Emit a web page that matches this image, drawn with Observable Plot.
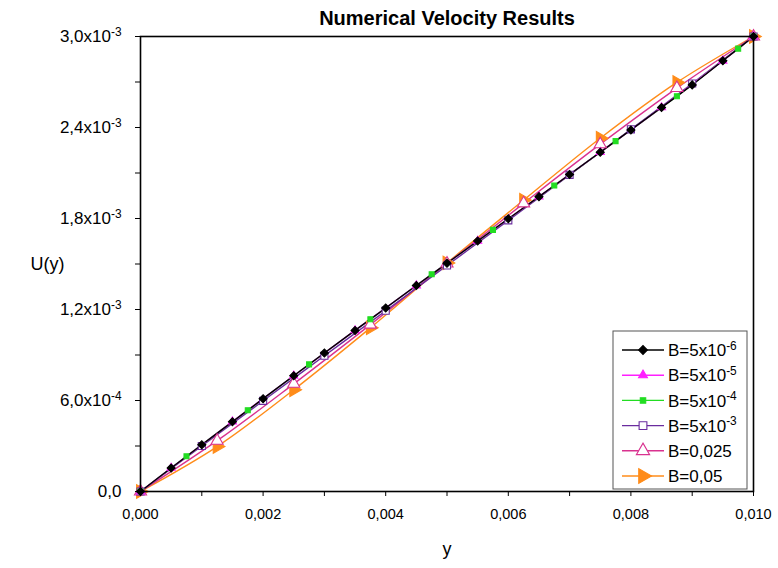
<!DOCTYPE html>
<html><head><meta charset="utf-8">
<script src="https://cdn.jsdelivr.net/npm/d3@7"></script>
<script src="https://cdn.jsdelivr.net/npm/@observablehq/plot@0.6"></script>
<style>body{margin:0;background:#fff}</style>
</head><body><div id="chart"></div>
<script>
// ---- data (y and U both in units of 1e-3) ----
const seriesNames = ["B=5x10^-6", "B=5x10^-5", "B=5x10^-4", "B=5x10^-3", "B=0,025", "B=0,05"];

const y_B5e6 = [0,0.5,1,1.5,2,2.5,3,3.5,4,4.5,5,5.5,6,6.5,7,7.5,8,8.5,9,9.5,10];
const U_B5e6 = [0,0.155,0.308,0.460,0.612,0.763,0.913,1.062,1.210,1.358,1.505,1.652,1.798,1.944,2.090,2.237,2.384,2.532,2.681,2.840,3.000];

const y_B5e5 = [0,0.5,1.5,2.5,3.5,4.5,5.5,6.5,7.5,8.5,9.5,10];
const U_B5e5 = [0,0.155,0.461,0.763,1.062,1.358,1.652,1.944,2.237,2.532,2.840,3.000];

const y_B5e4 = [0,0.75,1.75,2.75,3.75,4.75,5.75,6.75,7.75,8.75,9.75,10];
const U_B5e4 = [0,0.232,0.536,0.838,1.136,1.432,1.725,2.017,2.310,2.606,2.920,3.000];

const y_B5e3 = [0,1,2,3,4,5,6,7,8,9,10];
const U_B5e3 = [0,0.300,0.598,0.895,1.192,1.490,1.788,2.088,2.388,2.690,3.000];

const y_B025 = [0,1.25,2.5,3.75,5,6.25,7.5,8.75,10];
const U_B025 = [0,0.335,0.710,1.100,1.503,1.900,2.290,2.660,3.000];

const y_B05 = [0,1.25,2.5,3.75,5,6.25,7.5,8.75,10];
const U_B05 = [0,0.296,0.671,1.079,1.507,1.921,2.329,2.697,3.000];

const xTicks = [0,0.002,0.004,0.006,0.008,0.010];
const xTickLabels = ["0,000","0,002","0,004","0,006","0,008","0,010"];
const yTicks = [0,0.0006,0.0012,0.0018,0.0024,0.0030];
const yTickLabels = ["0,0","6,0x10^-4","1,2x10^-3","1,8x10^-3","2,4x10^-3","3,0x10^-3"];

// ---- styles ----
const colors = ["#000000","#ff1fff","#22dd22","#6a2c9e","#d9328f","#ff8c1a"];
const symbols = ["square","triangle","square","square","triangle","triangle"];
const fills = ["#000000","#ff1fff","#22dd22","#ffffff","#ffffff","#ff8c1a"];
const radii = [3.2,3,2.8,4,4.5,5];
const rotates = [45,0,0,0,0,90];

const ys = [y_B5e6,y_B5e5,y_B5e4,y_B5e3,y_B025,y_B05];
const Us = [U_B5e6,U_B5e5,U_B5e4,U_B5e3,U_B025,U_B05];
const tables = ys.map((arr,s)=>arr.map((v,i)=>({s, y:v*1e-3, U:Us[s][i]*1e-3})));

const minorX = xTicks.slice(1).map((d,i)=>(d+xTicks[i])/2);
const minorY = yTicks.slice(1).map((d,i)=>(d+yTicks[i])/2);

const marks = [];
for (let s = 5; s >= 0; s--) {
  marks.push(Plot.line(tables[s], {x:"y", y:"U", stroke:colors[s], strokeWidth:1.4, curve:"catmull-rom"}));
}
for (let s = 5; s >= 0; s--) {
  marks.push(Plot.dot(tables[s], {x:"y", y:"U", symbol:symbols[s], r:radii[s], fill:fills[s], stroke:colors[s], strokeWidth:1.1, rotate:rotates[s]}));
}

const chart = Plot.plot({
  width: 778, height: 568,
  marginLeft: 140, marginRight: 25, marginTop: 36, marginBottom: 77,
  style: {fontFamily: "Liberation Sans, Arial, sans-serif", background: "#fff", color: "#000"},
  x: {domain: [0, 0.010], axis: null},
  y: {domain: [0, 0.0030], axis: null},
  marks: [
    ...marks,
    Plot.axisX([...xTicks, ...minorX], {tickSize: 5, tickPadding: 12, fontSize: 14.5, label: null,
      tickFormat: d => { const i = xTicks.indexOf(d); return i >= 0 ? xTickLabels[i] : ""; }}),
    Plot.axisY([...yTicks, ...minorY], {tickSize: 5, tickPadding: 14, fontSize: 17, label: null,
      tickFormat: d => { const i = yTicks.indexOf(d); return i >= 0 ? yTickLabels[i] : ""; }}),
    Plot.frame({stroke: "#000", strokeWidth: 1.6}),
    Plot.text(["Numerical Velocity Results"], {frameAnchor: "top", lineAnchor: "middle", dy: -18, fontSize: 20, fontWeight: "bold"}),
    Plot.text(["U(y)"], {frameAnchor: "left", dx: -93, fontSize: 18, textAnchor: "middle"}),
    Plot.text(["y"], {frameAnchor: "bottom", lineAnchor: "middle", dy: 58, fontSize: 18})
  ]
});
document.getElementById("chart").appendChild(chart);

// superscripts on y tick labels
d3.select(chart).selectAll("text").each(function() {
  const t = this.textContent;
  if (t.includes("^") && this.childElementCount === 0) {
    const [base, exp] = t.split("^");
    const el = d3.select(this);
    el.text(base);
    el.append("tspan").attr("dy", "-0.5em").attr("font-size", "0.7em").text(exp);
  }
});

// legend
const svg = d3.select(chart);
const lg = svg.append("g").attr("font-family", "Liberation Sans, Arial, sans-serif").attr("text-anchor", "start");
lg.append("rect").attr("x", 613).attr("y", 331).attr("width", 134).attr("height", 158)
  .attr("fill", "#fff").attr("stroke", "#555").attr("stroke-width", 1);
const symMap = {triangle: d3.symbolTriangle, square: d3.symbolSquare};
seriesNames.forEach((name, i) => {
  const cy = 350 + i * 25.2;
  lg.append("line").attr("x1", 622).attr("x2", 664).attr("y1", cy).attr("y2", cy)
    .attr("stroke", colors[i]).attr("stroke-width", 1.4);
  lg.append("path").attr("d", d3.symbol(symMap[symbols[i]], Math.PI * radii[i] * radii[i] * 1.2)())
    .attr("transform", `translate(643,${cy}) rotate(${rotates[i]})`)
    .attr("fill", fills[i]).attr("stroke", colors[i]).attr("stroke-width", 1.1);
  const tx = lg.append("text").attr("x", 668).attr("y", cy).attr("dy", "0.36em").attr("font-size", 17).attr("fill", "#000");
  const [base, exp] = name.split("^");
  tx.append("tspan").text(base);
  if (exp) tx.append("tspan").attr("dy", "-0.55em").attr("font-size", "0.7em").text(exp);
});
</script>
</body></html>
